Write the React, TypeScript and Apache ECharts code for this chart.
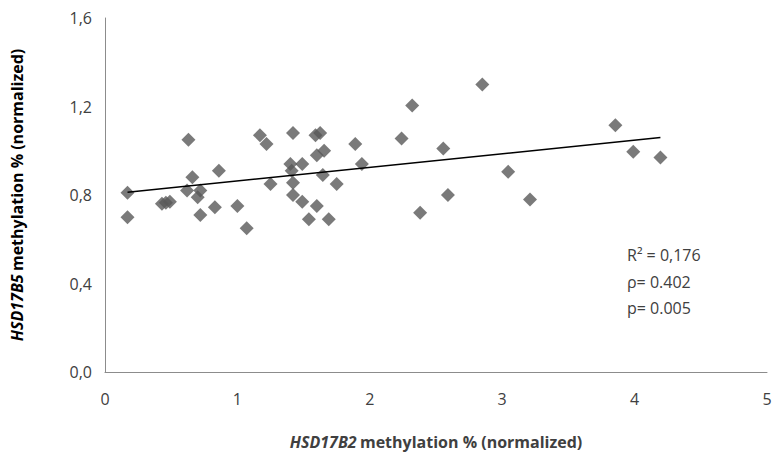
import React, { useEffect, useRef } from "react";
import * as echarts from "echarts";

const xValues = [
  0.17, 0.17, 0.43, 0.49, 0.46, 0.62, 0.63, 0.66, 0.70, 0.72, 0.72, 0.83, 0.86,
  1.00, 1.07, 1.17, 1.22, 1.25, 1.40, 1.41, 1.42, 1.42, 1.42, 1.49, 1.49, 1.54,
  1.59, 1.60, 1.60, 1.625, 1.645, 1.655, 1.69, 1.75, 1.89, 1.94, 2.24, 2.32,
  2.38, 2.555, 2.59, 2.85, 3.045, 3.21, 3.855, 3.99, 4.195,
];
const yValues = [
  0.81, 0.70, 0.76, 0.77, 0.765, 0.82, 1.05, 0.88, 0.79, 0.82, 0.71, 0.745, 0.91,
  0.75, 0.65, 1.07, 1.03, 0.85, 0.94, 0.91, 1.08, 0.855, 0.80, 0.94, 0.77, 0.69,
  1.07, 0.98, 0.75, 1.08, 0.89, 1.00, 0.69, 0.85, 1.03, 0.94, 1.055, 1.205,
  0.72, 1.01, 0.80, 1.30, 0.905, 0.78, 1.115, 0.995, 0.97,
];
const trendX = [0.17, 4.195];
const trendY = [0.812, 1.06];
const statsLines = ["R\u00B2 = 0,176", "\u03C1= 0.402", "p= 0.005"];

export default function App() {
  const ref = useRef<HTMLDivElement>(null);
  useEffect(() => {
    document.body.style.margin = "0";
    if (!ref.current) return;
    const chart = echarts.init(ref.current, null, { renderer: "svg" });
    const font = "'Open Sans', 'Liberation Sans', sans-serif";
    chart.setOption({
      animation: false,
      backgroundColor: "#ffffff",
      grid: { left: 105, right: 8, top: 18, bottom: 89, containLabel: false },
      xAxis: {
        type: "value",
        min: 0,
        max: 5,
        interval: 1,
        axisLine: { show: true, lineStyle: { color: "#8c8c8c", width: 1 } },
        axisTick: { show: false },
        splitLine: { show: false },
        axisLabel: { color: "#404040", fontSize: 16, fontFamily: font, margin: 19 },
        name: "{i|HSD17B2} {b|methylation % (normalized)}",
        nameLocation: "middle",
        nameGap: 62,
        nameTextStyle: {
          rich: {
            i: { fontStyle: "italic", fontWeight: "bold", fontSize: 16, fontFamily: font, color: "#404040" },
            b: { fontWeight: "bold", fontSize: 16, fontFamily: font, color: "#404040" },
          },
        },
      },
      yAxis: {
        type: "value",
        min: 0,
        max: 1.6,
        interval: 0.4,
        axisLine: { show: true, lineStyle: { color: "#8c8c8c", width: 1 } },
        axisTick: { show: false },
        splitLine: { show: false },
        axisLabel: {
          color: "#404040",
          fontSize: 16,
          fontFamily: font,
          margin: 13,
          formatter: (v: number) => v.toFixed(1).replace(".", ","),
        },
        name: "{i|HSD17B5} {b|methylation % (normalized)}",
        nameLocation: "middle",
        nameGap: 80,
        nameRotate: 90,
        nameTextStyle: {
          rich: {
            i: { fontStyle: "italic", fontWeight: "bold", fontSize: 16, fontFamily: font, color: "#000000" },
            b: { fontWeight: "bold", fontSize: 16, fontFamily: font, color: "#000000" },
          },
        },
      },
      series: [
        {
          type: "scatter",
          symbol: "diamond",
          symbolSize: 14,
          itemStyle: { color: "#595959" },
          data: xValues.map((x, i) => [x, yValues[i]]),
          z: 2,
        },
        {
          type: "line",
          symbol: "none",
          lineStyle: { color: "#000000", width: 1.5 },
          data: trendX.map((x, i) => [x, trendY[i]]),
          z: 3,
        },
      ],
      graphic: statsLines.map((t, i) => ({
        type: "text",
        left: 627,
        top: 247 + i * 26.5,
        style: { text: t, fill: "#404040", fontSize: 16, fontFamily: font },
      })),
    });
    return () => chart.dispose();
  }, []);
  return <div ref={ref} style={{ width: 775, height: 461 }} />;
}
